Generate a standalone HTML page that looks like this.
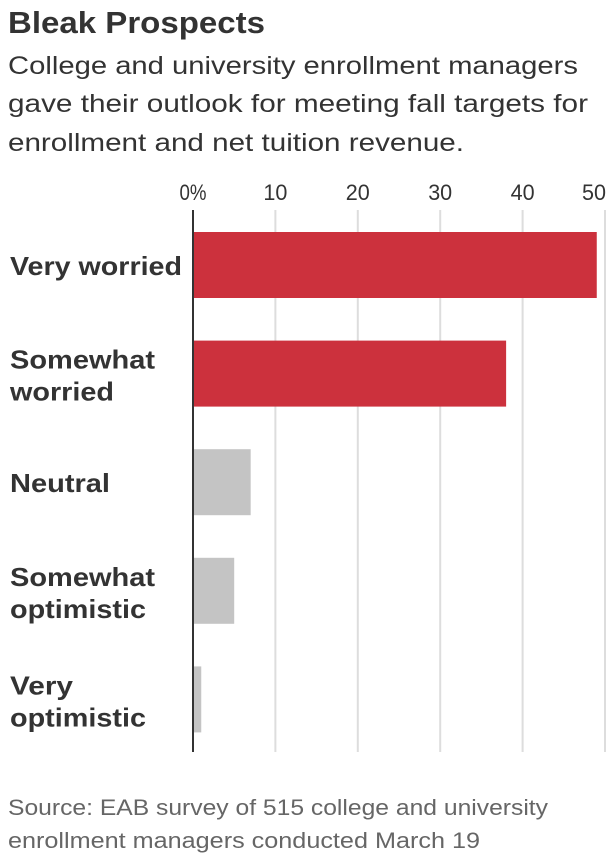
<!DOCTYPE html>
<html><head><meta charset="utf-8"><style>
html,body{margin:0;padding:0;background:#fff;}
svg{display:block;font-family:"Liberation Sans",sans-serif;}
</style></head><body>
<svg id="chart" width="616" height="864" viewBox="0 0 616 864">
<text x="8" y="33" font-size="31" font-weight="bold" fill="#333" textLength="257" lengthAdjust="spacingAndGlyphs">Bleak Prospects</text>
<g fill="#333" font-size="25">
<text x="8" y="74" textLength="570" lengthAdjust="spacingAndGlyphs">College and university enrollment managers</text>
<text x="8" y="112" textLength="580" lengthAdjust="spacingAndGlyphs">gave their outlook for meeting fall targets for</text>
<text x="8" y="151" textLength="456" lengthAdjust="spacingAndGlyphs">enrollment and net tuition revenue.</text>
</g>
<g id="grid"></g>
<g id="bars"></g>
<g id="labels"></g>
<line x1="193" y1="210" x2="193" y2="752" stroke="#333" stroke-width="2"/>
<g fill="#666" font-size="22">
<text x="8" y="815" textLength="540" lengthAdjust="spacingAndGlyphs">Source: EAB survey of 515 college and university</text>
<text x="8" y="848" textLength="472" lengthAdjust="spacingAndGlyphs">enrollment managers conducted March 19</text>
</g>
</svg>
<script>
const categories = [["Very worried"],["Somewhat","worried"],["Neutral"],["Somewhat","optimistic"],["Very","optimistic"]];
const values = [49, 38, 7, 5, 1];
const colors = ["#cc313d","#cc313d","#c4c4c4","#c4c4c4","#c4c4c4"];
const ticks = [0,10,20,30,40,50];
const tickLabels = ["0%","10","20","30","40","50"];
const NS="http://www.w3.org/2000/svg";
const x0=193, pxPerUnit=8.24;
const xs=v=>x0+v*pxPerUnit;
const bandTop=232, bandStep=108.6, barH=66;
const ys=i=>bandTop+i*bandStep;
const labelWidth={"Very worried":172,"Somewhat":145,"worried":104,"Neutral":100,"optimistic":136,"Very":63};
function mk(tag,attrs,parent){const e=document.createElementNS(NS,tag);for(const k in attrs)e.setAttribute(k,attrs[k]);parent.appendChild(e);return e;}
const grid=document.getElementById('grid'),bars=document.getElementById('bars'),labels=document.getElementById('labels');
ticks.forEach((t,i)=>{
  if(t>0){const l=mk('line',{x1:xs(t),x2:xs(t),y1:210,y2:752,stroke:'#ddd','stroke-width':2},grid);
  
  }
  const last=i===ticks.length-1;
  const tx=mk('text',{x:xs(t)+(last?1:0),y:200,'text-anchor':last?'end':'middle','font-size':22,fill:'#333',textLength:tickLabels[i]==="0%"?27:24,lengthAdjust:'spacingAndGlyphs'},grid);
  tx.textContent=tickLabels[i];
  
  
});
values.forEach((v,i)=>{
  const r=mk('rect',{x:x0,y:ys(i),width:xs(v)-x0,height:barH,fill:colors[i]},bars);
  
  
  const lines=categories[i];
  const mid=ys(i)+barH/2;
  lines.forEach((s,j)=>{
    const y = lines.length===1 ? mid+10 : mid-5+j*32;
    const t=mk('text',{x:10,y:y,'font-size':26,'font-weight':'bold',fill:'#333'},labels);
    if(labelWidth[s]){t.setAttribute('textLength',labelWidth[s]);t.setAttribute('lengthAdjust','spacingAndGlyphs');}
    t.textContent=s;
    
    
  });
});
</script>
</body></html>
